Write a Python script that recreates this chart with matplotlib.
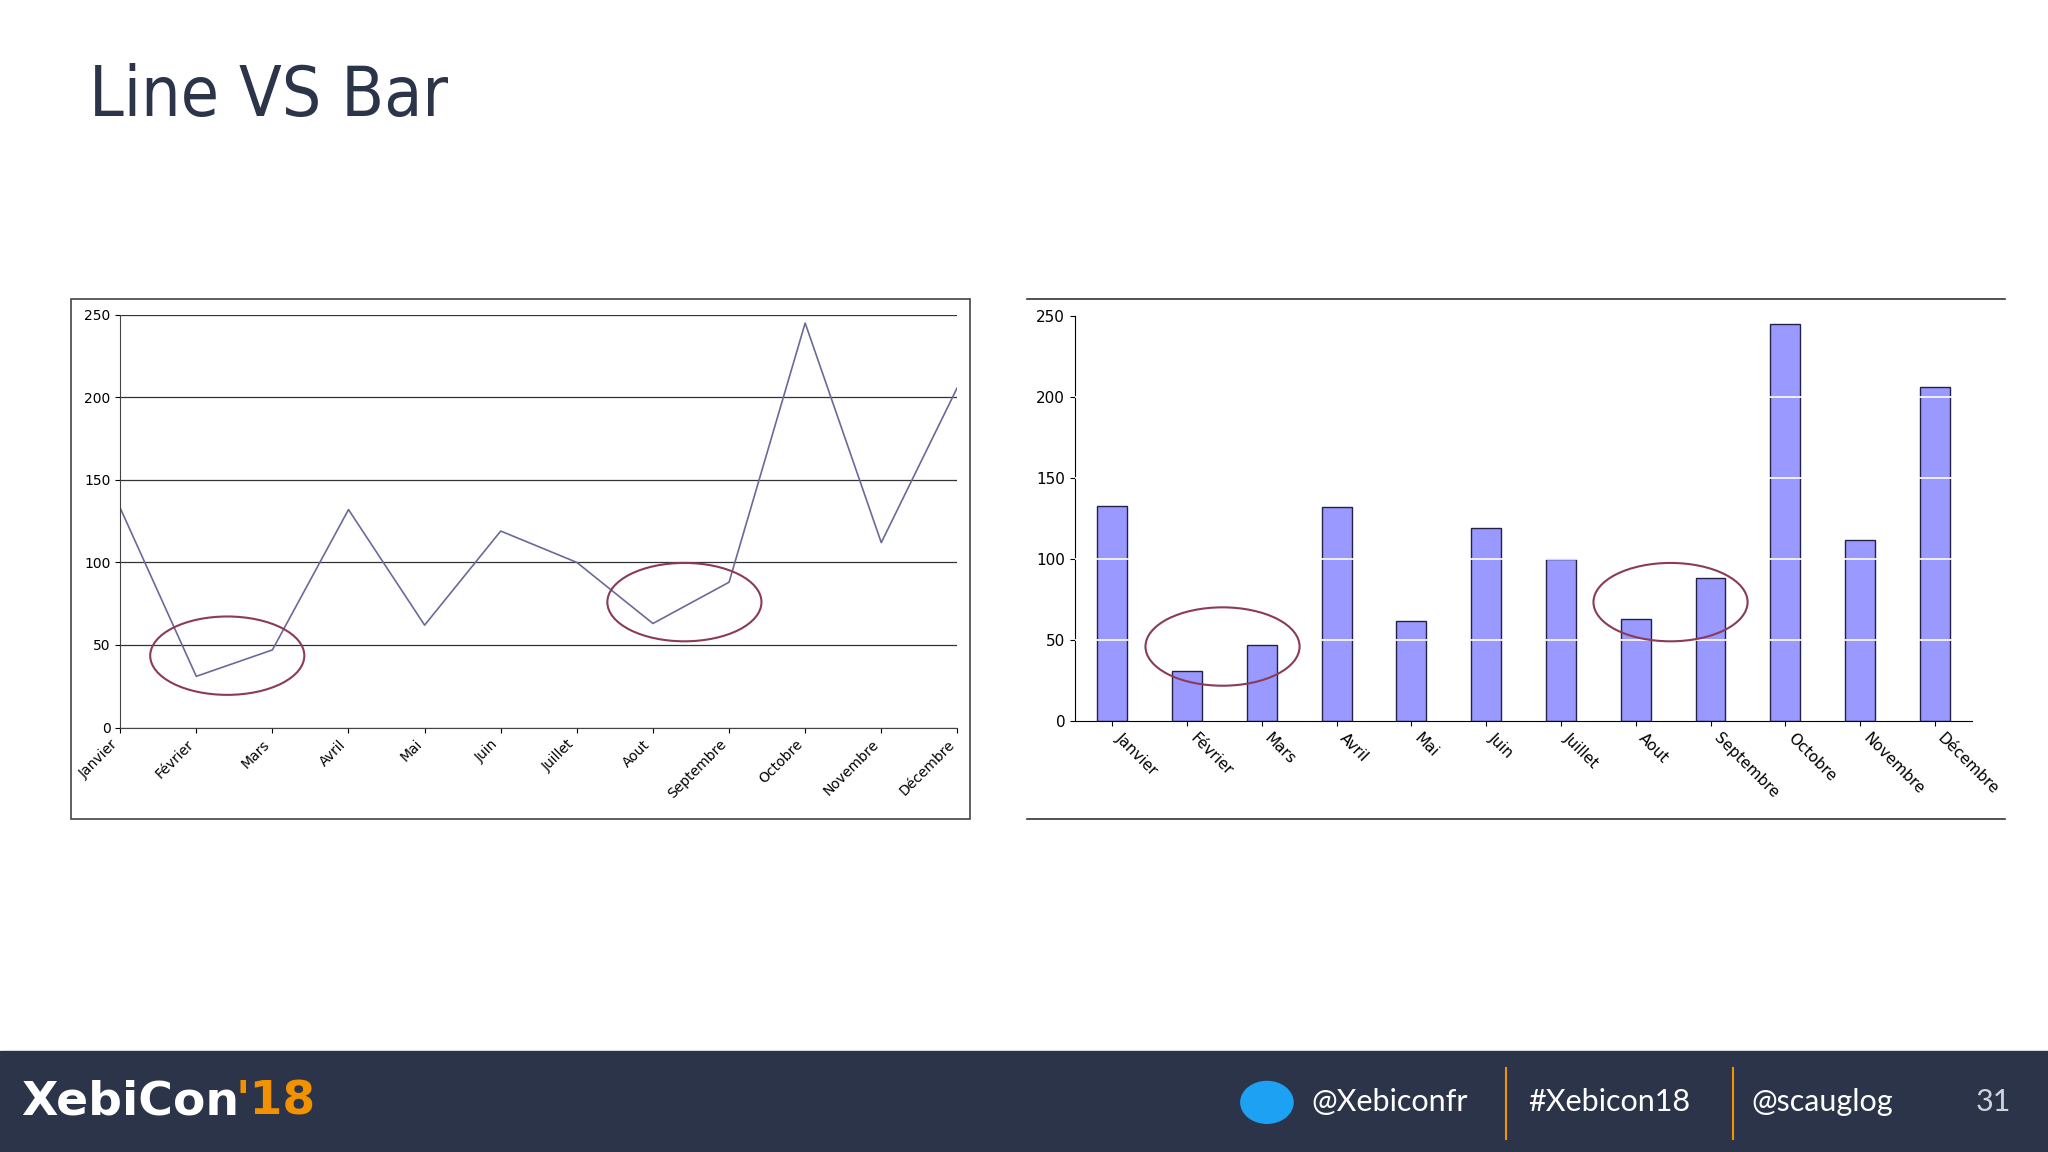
import matplotlib
matplotlib.use("Agg")
import matplotlib.pyplot as plt
from matplotlib.patches import Ellipse, Rectangle
from matplotlib.lines import Line2D

months = ["Janvier", "Février", "Mars", "Avril", "Mai", "Juin", "Juillet",
          "Aout", "Septembre", "Octobre", "Novembre", "Décembre"]
values = [133, 31, 47, 132, 62, 119, 100, 63, 88, 245, 112, 206]
yticks = [0, 50, 100, 150, 200, 250]

W, H = 1568.0, 882.0
def fr(x0, y0, x1, y1):
    return [x0 / W, 1 - y1 / H, (x1 - x0) / W, (y1 - y0) / H]

fig = plt.figure(figsize=(20.48, 11.52), dpi=100)
fig.patch.set_facecolor("white")

fig.text(68 / W, 1 - 74 / H, "Line VS Bar", fontsize=50, color="#2b3448",
         va="center", ha="left", family="DejaVu Sans", fontstretch="condensed")

# Left frame
fig.add_artist(Rectangle((54 / W, 1 - 627 / H), 689 / W, 398 / H, transform=fig.transFigure,
                         fill=False, ec="#444", lw=1.2))
ax1 = fig.add_axes(fr(92, 241, 733, 557))
ax1.plot(range(12), values, color="#6a6a9a", lw=1.2)
ax1.set_xlim(0, 11)
ax1.set_ylim(0, 250)
ax1.set_yticks(yticks)
ax1.set_xticks(range(12))
ax1.set_xticklabels(months, rotation=45, ha="right", fontsize=10)
ax1.tick_params(axis="y", labelsize=10)
ax1.grid(axis="y", color="#333", lw=0.9)
for s in ["top", "right"]:
    ax1.spines[s].set_visible(False)
ax1.spines["left"].set_color("#444")
ax1.spines["bottom"].set_color("#444")
ax1.set_axisbelow(True)

# Right chart
fig.add_artist(Line2D([786 / W, 1535 / W], [1 - 229 / H] * 2, transform=fig.transFigure, color="#333", lw=1.2))
fig.add_artist(Line2D([786 / W, 1535 / W], [1 - 627 / H] * 2, transform=fig.transFigure, color="#333", lw=1.2))
ax2 = fig.add_axes(fr(823, 242, 1510, 552))
ax2.bar(range(12), values, width=0.4, color="#9999ff", edgecolor="#222244", lw=1)
ax2.set_xlim(-0.5, 11.5)
ax2.set_ylim(0, 250)
ax2.set_yticks(yticks)
ax2.set_xticks(range(12))
ax2.set_xticklabels(months, rotation=-45, ha="left", fontsize=11)
ax2.tick_params(axis="y", labelsize=11)
for y in yticks[1:-1]:
    ax2.axhline(y, color="white", lw=1.2, zorder=3)
for s in ["top", "right"]:
    ax2.spines[s].set_visible(False)

# Ellipses
for cx, cy in [(174, 502), (524, 461), (936, 495), (1279, 461)]:
    fig.add_artist(Ellipse((cx / W, 1 - cy / H), 118 / W, 60 / H, transform=fig.transFigure,
                           fill=False, ec="#8b3a5a", lw=1.5))

# Footer
fig.add_artist(Rectangle((0, 0), 1, 77 / H, transform=fig.transFigure, color="#2b3448"))
fy = 1 - 844 / H
fig.text(16 / W, fy, "XebiCon", color="white", fontsize=34, fontweight="bold", va="center")
fig.text(180 / W, fy, "'18", color="#f39200", fontsize=34, fontweight="bold", va="center")
fig.text(1004 / W, fy, "@Xebiconfr", color="white", fontsize=22, va="center", family="Lato")
fig.text(1170 / W, fy, "#Xebicon18", color="white", fontsize=22, va="center", family="Lato")
fig.text(1341 / W, fy, "@scauglog", color="white", fontsize=22, va="center", family="Lato")
fig.text(1513 / W, fy, "31", color="#cfd3dc", fontsize=22, va="center", family="Lato")
for x in [1153, 1327]:
    fig.add_artist(Line2D([x / W] * 2, [1 - 872 / H, 1 - 818 / H], transform=fig.transFigure, color="#f39200", lw=1.5))
fig.add_artist(Ellipse((970 / W, fy), 40 / W, 32 / H, transform=fig.transFigure, color="#1da1f2"))

fig.savefig("out.png", dpi=100)
